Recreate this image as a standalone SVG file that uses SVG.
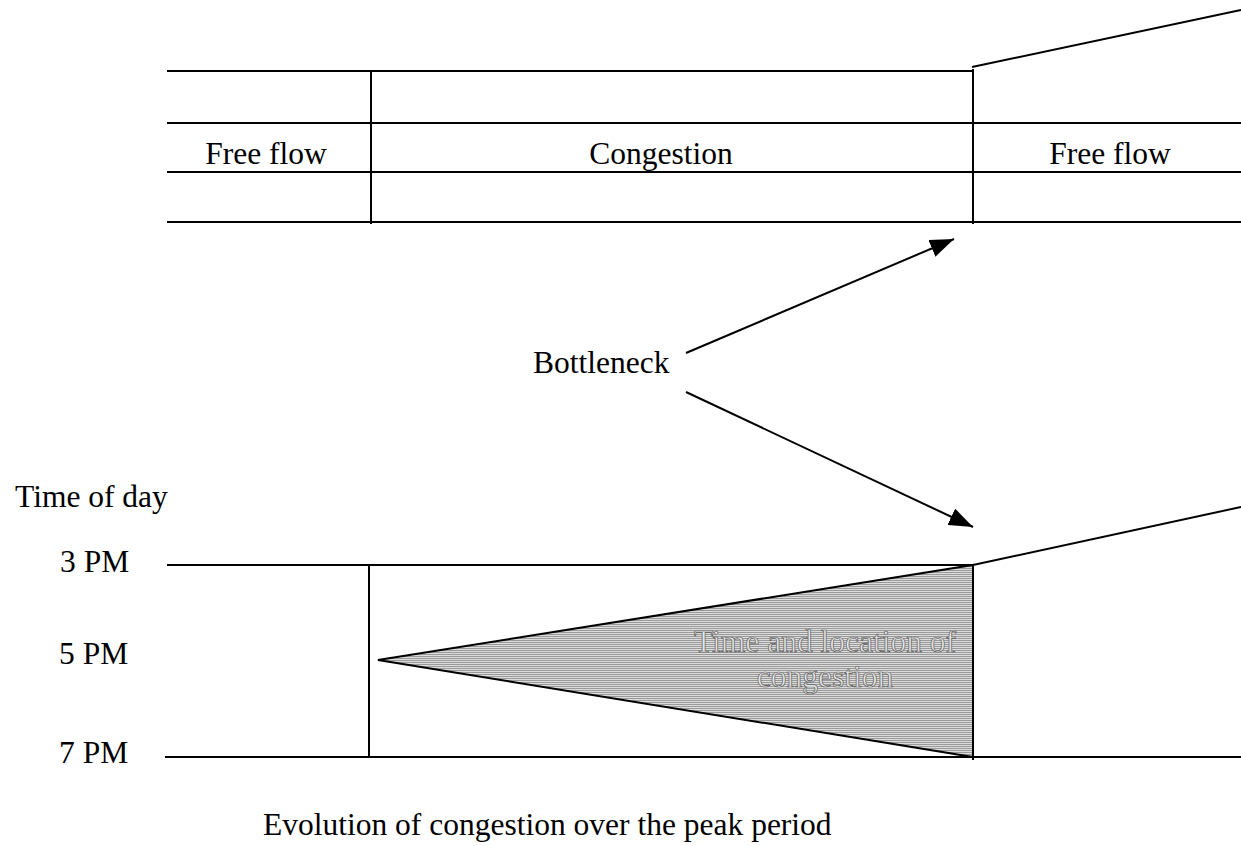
<svg xmlns="http://www.w3.org/2000/svg" width="1241" height="846" viewBox="0 0 1241 846">
<style>
.t{font-family:"Liberation Serif","Times New Roman",serif;font-size:31.5px;fill:#000}
.ln{stroke:#000;stroke-width:2;fill:none}
.out{font-family:"Liberation Serif","Times New Roman",serif;font-size:31.5px;fill:#e6e6e6;stroke:#5a5a5a;stroke-width:0.7}
</style>
<defs>
<pattern id="hatch" patternUnits="userSpaceOnUse" width="8" height="2">
<rect width="8" height="2" fill="#dcdcdc"/>
<rect width="8" height="1" fill="#9a9a9a"/>
</pattern>
<marker id="ah" viewBox="0 0 24 18" refX="24" refY="9" markerWidth="24" markerHeight="18" markerUnits="userSpaceOnUse" orient="auto">
<path d="M0,0 L24,9 L0,18 z" fill="#000"/>
</marker>
</defs>
<rect width="1241" height="846" fill="#fff"/>
<g id="road-top">
<line class="ln" x1="167" y1="71" x2="973" y2="71"/>
<line class="ln" x1="167" y1="123" x2="1241" y2="123"/>
<line class="ln" x1="167" y1="172" x2="1241" y2="172"/>
<line class="ln" x1="167" y1="222" x2="1241" y2="222"/>
<line class="ln" x1="371" y1="71" x2="371" y2="224"/>
<line class="ln" x1="973" y1="69" x2="973" y2="224"/>
<line class="ln" x1="972" y1="67" x2="1241" y2="10"/>
</g>
<g id="label-freeflow-left"><text class="t" x="266" y="164" text-anchor="middle">Free flow</text></g>
<g id="label-congestion"><text class="t" x="661" y="164" text-anchor="middle">Congestion</text></g>
<g id="label-freeflow-right"><text class="t" x="1110" y="164" text-anchor="middle">Free flow</text></g>
<g id="bottleneck"><text class="t" x="533" y="373">Bottleneck</text></g>
<g id="timeline">
<line class="ln" x1="167" y1="565" x2="973" y2="565"/>
<line class="ln" x1="165" y1="757" x2="1241" y2="757"/>
<line class="ln" x1="369" y1="565" x2="369" y2="757"/>
<line class="ln" x1="973" y1="565" x2="1241" y2="507"/>
</g>
<g id="congestion-wedge">
<polygon points="378,660 973,565 973,757" fill="url(#hatch)" stroke="#000" stroke-width="2" stroke-linejoin="miter"/>
<line class="ln" x1="973" y1="565" x2="973" y2="760"/>
<text class="out" x="825" y="652" text-anchor="middle">Time and location of</text>
<text class="out" x="825" y="687" text-anchor="middle">congestion</text>
</g>
<g id="axis-labels">
<text class="t" x="15" y="507">Time of day</text>
<text class="t" x="60" y="572">3 PM</text>
<text class="t" x="59" y="664">5 PM</text>
<text class="t" x="59" y="763">7 PM</text>
</g>
<g id="caption"><text class="t" x="263" y="835">Evolution of congestion over the peak period</text></g>
<g id="connectors">
<line class="ln" x1="686" y1="353" x2="954" y2="239" marker-end="url(#ah)"/>
<line class="ln" x1="686" y1="392" x2="973" y2="527" marker-end="url(#ah)"/>
</g>
</svg>
